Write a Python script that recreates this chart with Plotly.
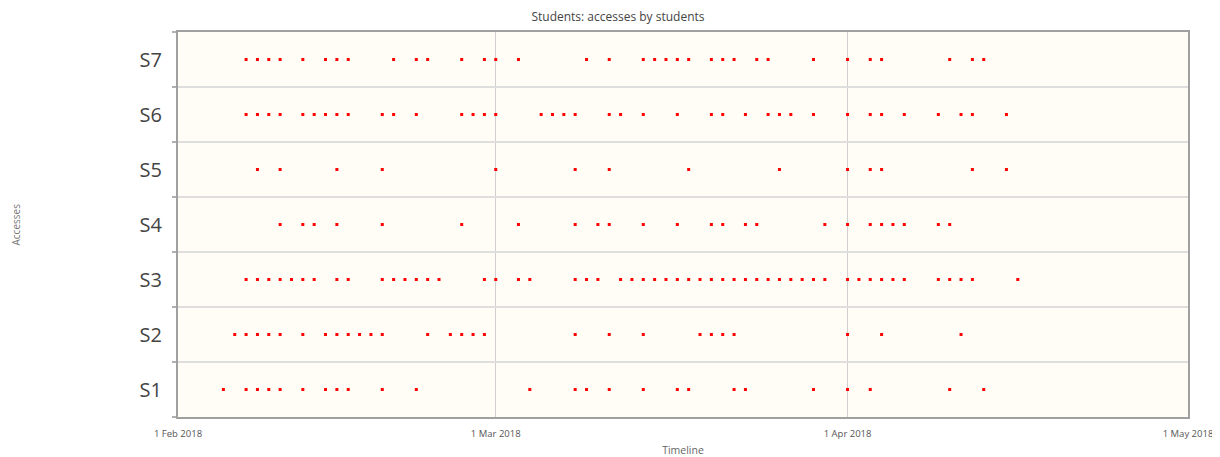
import plotly.graph_objects as go

students = ["S1", "S2", "S3", "S4", "S5", "S6", "S7"]

s1_dates = ["2018-02-05", "2018-02-07", "2018-02-08", "2018-02-09", "2018-02-10", "2018-02-12",
            "2018-02-14", "2018-02-15", "2018-02-16", "2018-02-19", "2018-02-22",
            "2018-03-04", "2018-03-08", "2018-03-09", "2018-03-11", "2018-03-14", "2018-03-17",
            "2018-03-18", "2018-03-22", "2018-03-23", "2018-03-29", "2018-04-01", "2018-04-03",
            "2018-04-10", "2018-04-13"]
s2_dates = ["2018-02-06", "2018-02-07", "2018-02-08", "2018-02-09", "2018-02-10", "2018-02-12",
            "2018-02-14", "2018-02-15", "2018-02-16", "2018-02-17", "2018-02-18", "2018-02-19",
            "2018-02-23", "2018-02-25", "2018-02-26", "2018-02-27", "2018-02-28",
            "2018-03-08", "2018-03-11", "2018-03-14", "2018-03-19", "2018-03-20", "2018-03-21",
            "2018-03-22", "2018-04-01", "2018-04-04", "2018-04-11"]
s3_dates = ["2018-02-07", "2018-02-08", "2018-02-09", "2018-02-10", "2018-02-11", "2018-02-12",
            "2018-02-13", "2018-02-15", "2018-02-16", "2018-02-19", "2018-02-20", "2018-02-21",
            "2018-02-22", "2018-02-23", "2018-02-24", "2018-02-28", "2018-03-01", "2018-03-03",
            "2018-03-04", "2018-03-08", "2018-03-09", "2018-03-10", "2018-03-12", "2018-03-13",
            "2018-03-14", "2018-03-15", "2018-03-16", "2018-03-17", "2018-03-18", "2018-03-19",
            "2018-03-20", "2018-03-21", "2018-03-22", "2018-03-23", "2018-03-24", "2018-03-25",
            "2018-03-26", "2018-03-27", "2018-03-28", "2018-03-29", "2018-03-30", "2018-04-01",
            "2018-04-02", "2018-04-03", "2018-04-04", "2018-04-05", "2018-04-06", "2018-04-09",
            "2018-04-10", "2018-04-11", "2018-04-12", "2018-04-16"]
s4_dates = ["2018-02-10", "2018-02-12", "2018-02-13", "2018-02-15", "2018-02-19", "2018-02-26",
            "2018-03-03", "2018-03-08", "2018-03-10", "2018-03-11", "2018-03-14", "2018-03-17",
            "2018-03-20", "2018-03-21", "2018-03-23", "2018-03-24", "2018-03-30", "2018-04-01",
            "2018-04-03", "2018-04-04", "2018-04-05", "2018-04-06", "2018-04-09", "2018-04-10"]
s5_dates = ["2018-02-08", "2018-02-10", "2018-02-15", "2018-02-19", "2018-03-01", "2018-03-08",
            "2018-03-11", "2018-03-18", "2018-03-26", "2018-04-01", "2018-04-03", "2018-04-04",
            "2018-04-12", "2018-04-15"]
s6_dates = ["2018-02-07", "2018-02-08", "2018-02-09", "2018-02-10", "2018-02-12", "2018-02-13",
            "2018-02-14", "2018-02-15", "2018-02-16", "2018-02-19", "2018-02-20", "2018-02-22",
            "2018-02-26", "2018-02-27", "2018-02-28", "2018-03-01", "2018-03-05", "2018-03-06",
            "2018-03-07", "2018-03-08", "2018-03-11", "2018-03-12", "2018-03-14", "2018-03-17",
            "2018-03-20", "2018-03-21", "2018-03-23", "2018-03-25", "2018-03-26", "2018-03-27",
            "2018-03-29", "2018-04-01", "2018-04-03", "2018-04-04", "2018-04-06", "2018-04-09",
            "2018-04-11", "2018-04-12", "2018-04-15"]
s7_dates = ["2018-02-07", "2018-02-08", "2018-02-09", "2018-02-10", "2018-02-12", "2018-02-14",
            "2018-02-15", "2018-02-16", "2018-02-20", "2018-02-22", "2018-02-23", "2018-02-26",
            "2018-02-28", "2018-03-01", "2018-03-03", "2018-03-09", "2018-03-11", "2018-03-14",
            "2018-03-15", "2018-03-16", "2018-03-17", "2018-03-18", "2018-03-20", "2018-03-21",
            "2018-03-22", "2018-03-24", "2018-03-25", "2018-03-29", "2018-04-01", "2018-04-03",
            "2018-04-04", "2018-04-10", "2018-04-12", "2018-04-13"]

x_ticks = ["2018-02-01", "2018-03-01", "2018-04-01", "2018-05-01"]
x_tick_labels = ["1 Feb 2018", "1 Mar 2018", "1 Apr 2018", "1 May 2018"]

all_dates = [s1_dates, s2_dates, s3_dates, s4_dates, s5_dates, s6_dates, s7_dates]

W, H = 1212, 449
L, R, T, B = 170, 32, 24, 40

fig = go.Figure()
for name, dates in zip(students, all_dates):
    fig.add_trace(go.Scatter(
        x=dates, y=[name] * len(dates), mode="markers", name=name,
        marker=dict(symbol="square", size=3, color="#ff0000", line=dict(width=0)),
        showlegend=False,
    ))

fig.update_layout(
    width=W, height=H,
    margin=dict(l=L, r=R, t=T, b=B),
    paper_bgcolor="#ffffff",
    plot_bgcolor="#fffdf5",
    title=dict(text="Students: accesses by students", x=610 / W, xanchor="center",
               y=1 - 9 / H, yanchor="middle", yref="container",
               font=dict(family="Open Sans", size=12, color="#444444")),
    font=dict(family="Open Sans"),
)
fig.update_xaxes(
    type="date", range=["2018-02-01", "2018-05-01"],
    tickvals=x_ticks, ticktext=x_tick_labels,
    tickfont=dict(size=9.5, color="#555555"),
    showgrid=True, gridcolor="#d0d0d0", gridwidth=1,
    showline=True, linecolor="#a0a0a0", linewidth=2, mirror=True,
    ticks="", zeroline=False, ticklabelstandoff=7, automargin=False,
    title=dict(text="Timeline", font=dict(size=10.5, color="#666666"), standoff=10),
)
fig.update_yaxes(
    type="category", categoryorder="array", categoryarray=students,
    range=[-0.5, 6.5], tickson="boundaries",
    tickfont=dict(size=20, color="#444444"),
    showgrid=True, gridcolor="#dedede", gridwidth=1.5,
    showline=True, linecolor="#a0a0a0", linewidth=2, mirror=True,
    ticks="outside", ticklen=4, tickcolor="#b0b0b0", tickwidth=1.5,
    ticklabelstandoff=10, zeroline=False, automargin=False,
)
fig.add_annotation(
    text="Accesses", xref="paper", yref="paper", x=(7 - L) / (W - L - R), y=0.5,
    xanchor="center", yanchor="middle", textangle=-90, showarrow=False,
    font=dict(family="Open Sans", size=10, color="#777777"),
)

fig.write_html("out.html")
